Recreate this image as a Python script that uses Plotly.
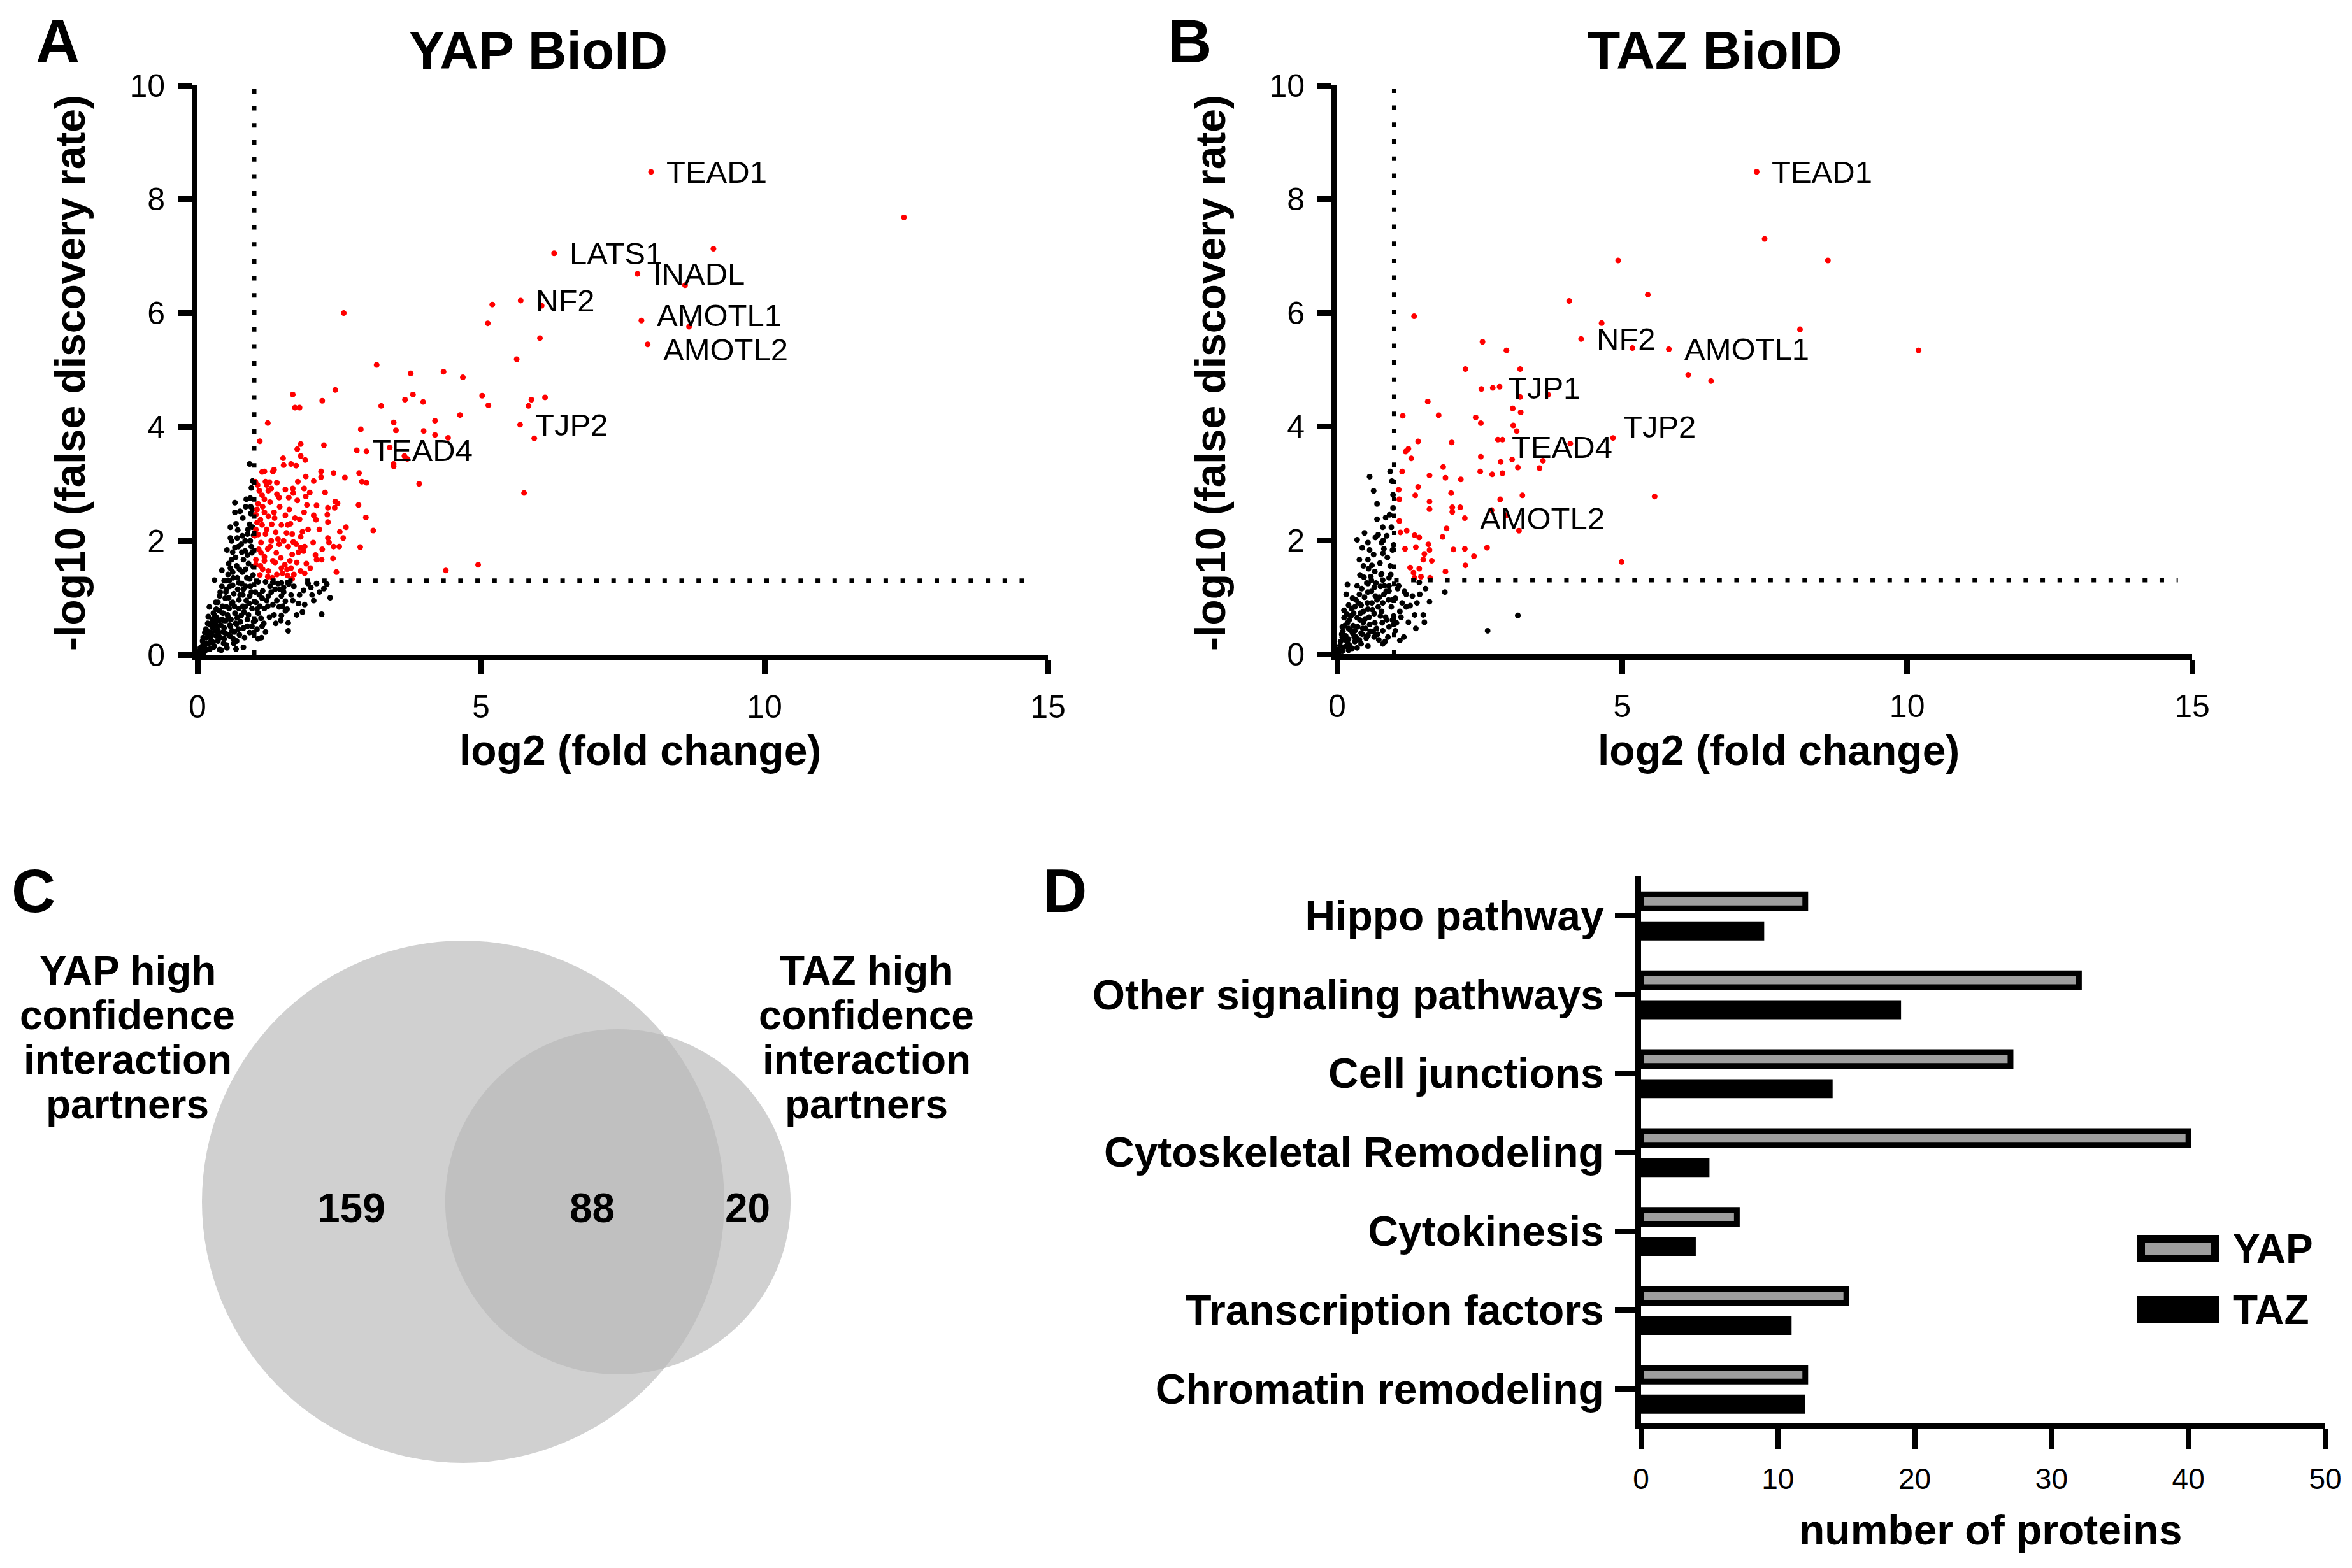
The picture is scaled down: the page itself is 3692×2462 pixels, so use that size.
import numpy as np
import plotly.graph_objects as go

W, H = 3692, 2462
FONT = "Liberation Sans, Arial, Helvetica, sans-serif"

# ------------------------------------------------------------------ data
# Panel A: YAP BioID  (log2 fold change, -log10 FDR)
yap_sig = [
    (3.16, 5.09), (3.76, 4.94), (4.34, 4.97), (1.68, 4.57), (2.43, 4.65), (2.20, 4.46), (1.72, 4.34), (1.80, 4.34),
    (3.66, 4.48), (3.80, 4.57), (3.98, 4.44), (3.24, 4.37), (1.24, 4.07), (3.46, 4.08), (3.50, 3.94), (2.88, 3.96),
    (4.19, 4.11), (3.99, 3.93), (4.19, 3.86), (4.42, 3.81), (1.10, 3.75), (2.23, 3.68), (1.82, 3.70), (1.76, 3.61),
    (2.81, 3.59), (2.98, 3.57), (3.39, 3.64), (3.65, 3.49), (3.70, 3.44), (3.46, 3.35), (3.46, 3.31), (3.91, 3.00),
    (1.51, 3.45), (1.82, 3.49), (1.90, 3.42), (1.65, 3.35), (1.74, 3.32), (1.52, 3.33), (1.35, 3.25), (1.33, 3.22),
    (1.14, 3.21), (1.18, 3.22), (2.18, 3.22), (2.18, 3.12), (2.40, 3.19), (2.60, 3.11), (2.85, 3.19), (2.90, 3.04),
    (2.98, 3.02), (1.91, 3.13), (1.02, 3.04), (1.20, 3.04), (1.27, 3.03), (1.40, 3.02), (1.77, 3.04), (1.68, 2.92),
    (1.88, 2.92), (1.09, 2.88), (1.14, 2.80), (1.25, 2.88), (1.18, 2.73), (1.07, 2.65), (1.40, 2.82), (1.44, 2.76),
    (1.61, 2.76), (1.69, 2.84), (1.76, 2.71), (1.91, 2.78), (1.93, 2.63), (2.10, 2.62), (2.30, 2.58), (2.43, 2.69),
    (2.47, 2.66), (2.42, 2.58), (2.84, 2.63), (2.97, 2.41), (3.10, 2.18), (2.87, 1.89), (1.03, 2.46), (1.11, 2.37),
    (1.18, 2.50), (1.25, 2.43), (1.14, 2.28), (1.03, 2.20), (1.22, 2.20), (1.31, 2.29), (1.80, 2.38), (2.09, 2.37),
    (2.29, 2.46), (2.30, 2.33), (1.48, 2.28), (1.59, 2.28), (2.62, 2.24), (2.51, 2.16), (2.57, 2.05), (1.01, 2.09),
    (1.07, 2.11), (1.57, 2.14), (1.67, 2.12), (1.85, 2.16), (1.82, 2.07), (1.12, 1.97), (1.24, 1.86), (1.12, 1.79),
    (1.42, 2.03), (1.44, 1.94), (1.69, 1.98), (1.74, 1.94), (1.82, 1.88), (1.87, 1.82), (1.89, 1.90), (2.04, 1.97),
    (2.30, 2.05), (2.32, 1.97), (2.40, 1.90), (2.50, 1.90), (1.39, 1.79), (1.67, 1.76), (2.08, 1.75), (2.10, 1.67),
    (2.19, 1.67), (2.39, 1.69), (1.03, 1.67), (1.18, 1.65), (1.33, 1.65), (1.37, 1.62), (1.03, 1.58), (1.11, 1.56),
    (1.54, 1.58), (1.63, 1.65), (1.65, 1.52), (1.99, 1.52), (1.82, 1.47), (1.89, 1.43), (1.25, 1.47), (1.24, 1.37),
    (1.40, 1.41), (1.50, 1.43), (1.59, 1.39), (1.67, 1.33), (1.70, 1.41), (2.45, 1.45), (4.38, 1.48),
    (1.05, 2.55), (1.15, 2.60), (1.28, 2.68), (1.35, 2.50), (1.45, 2.60), (1.55, 2.45), (1.62, 2.55), (1.72, 2.40),
    (1.05, 2.32), (1.20, 2.12), (1.30, 2.00), (1.38, 2.15), (1.52, 2.00), (1.60, 1.90), (1.78, 1.80), (1.95, 2.20),
    (2.05, 2.45), (2.15, 2.20), (1.08, 1.85), (1.18, 1.72), (1.28, 1.90), (1.47, 1.70), (1.58, 1.50), (1.75, 1.62),
    (1.92, 1.60), (2.20, 1.85), (1.10, 1.40), (1.32, 1.35), (1.48, 1.52), (1.06, 2.98), (1.30, 2.92), (1.55, 2.90),
    (1.98, 2.85), (2.05, 3.05), (2.25, 2.85), (1.15, 1.50), (1.22, 2.98), (1.36, 2.40), (1.64, 2.30), (1.88, 2.50),
    (4.68, 4.87), (5.02, 4.55), (5.13, 4.38), (5.89, 4.48), (6.13, 4.52), (5.84, 4.37), (4.63, 4.21), (5.69, 4.04),
    (5.94, 3.80), (5.76, 2.84), (4.95, 1.58), (5.63, 5.19),
    (8.00, 8.48), (12.46, 7.68), (9.10, 7.13), (6.29, 7.05), (7.76, 6.69), (8.60, 6.49), (5.70, 6.22), (5.20, 6.15),
    (6.07, 6.13), (2.58, 6.00), (5.12, 5.82), (7.83, 5.87), (8.67, 5.76), (7.94, 5.45), (6.04, 5.56),
]
yap_ns = [
    (0.92, 3.35), (0.95, 2.93), (0.86, 2.73), (0.66, 2.67), (0.75, 2.52), (0.66, 2.50), (0.94, 2.48), (0.92, 2.29),
    (0.97, 2.24), (0.58, 2.24), (0.71, 2.19), (0.88, 2.12), (0.79, 2.09), (0.58, 2.05), (0.52, 1.84), (0.66, 1.88),
    (0.77, 1.94), (0.84, 1.82), (0.96, 1.79), (0.60, 1.67), (0.69, 1.56), (0.43, 1.48), (0.54, 1.41), (0.79, 1.45),
    (0.92, 1.33), (0.30, 1.31), (1.07, 1.28), (1.20, 1.28), (1.33, 1.27), (1.48, 1.26), (1.59, 1.27), (2.28, 1.24),
    (2.00, 1.18), (1.87, 1.13), (2.23, 1.16), (2.02, 1.05), (2.34, 1.00), (1.37, 1.15), (1.52, 1.18), (1.61, 1.24),
    (1.25, 1.03), (1.48, 1.03), (1.55, 0.94), (1.14, 0.99), (1.03, 0.92), (0.92, 1.03), (0.81, 1.15), (0.73, 1.26),
    (0.62, 1.22), (0.51, 1.15), (0.39, 1.03), (0.32, 0.92), (0.21, 0.84), (0.28, 0.73), (0.39, 0.77), (0.51, 0.84),
    (0.62, 0.92), (0.73, 0.96), (0.84, 0.84), (0.96, 0.81), (1.07, 0.73), (1.18, 0.81), (1.33, 0.88), (1.44, 0.84),
    (1.55, 0.77), (1.48, 0.69), (1.27, 0.66), (1.12, 0.64), (1.14, 0.50), (0.99, 0.58), (0.88, 0.62), (0.77, 0.69),
    (0.66, 0.73), (0.54, 0.66), (0.43, 0.62), (0.32, 0.58), (0.21, 0.54), (0.13, 0.39), (0.24, 0.39), (0.36, 0.43),
    (0.47, 0.47), (0.58, 0.50), (0.69, 0.54), (0.81, 0.47), (0.92, 0.39), (0.99, 0.39), (1.07, 0.28), (0.81, 0.13),
    (0.69, 0.24), (0.58, 0.32), (0.47, 0.28), (0.36, 0.24), (0.24, 0.24), (0.13, 0.17), (0.06, 0.09), (0.17, 0.09),
    (0.28, 0.13), (0.39, 0.09), (0.51, 0.17), (0.64, 0.20), (1.78, 0.90), (1.89, 0.88), (2.19, 0.71), (1.60, 0.56),
    (1.60, 0.42), (0.09, 0.24), (0.19, 0.67), (0.36, 0.92), (0.47, 1.30), (0.58, 1.52), (0.67, 1.71), (0.81, 1.67),
    (0.49, 0.99), (0.64, 1.07), (0.56, 0.81), (0.73, 0.81), (0.45, 0.73), (0.06, 0.02), (0.11, 0.03), (0.02, 0.03),
    (0.05, 0.12), (0.10, 0.30), (0.15, 0.45), (0.20, 0.20), (0.25, 0.35), (0.30, 0.15), (0.35, 0.50), (0.40, 0.30),
    (0.45, 0.40), (0.50, 0.60), (0.55, 0.35), (0.60, 0.90), (0.65, 0.40), (0.70, 0.65), (0.75, 1.05), (0.80, 0.85),
    (0.85, 1.20), (0.90, 0.70), (0.95, 1.10), (0.30, 0.70), (0.40, 1.10), (0.50, 1.30), (0.55, 1.60), (0.62, 1.45),
    (0.70, 1.35), (0.78, 1.25), (0.85, 1.50), (0.88, 1.75), (0.93, 2.00), (0.98, 1.55), (0.72, 1.90), (0.60, 2.00),
    (0.68, 2.30), (0.80, 2.40), (0.85, 2.60), (0.12, 0.05), (0.18, 0.55), (0.22, 0.10), (0.26, 0.48), (0.33, 0.33),
    (0.42, 0.08), (0.47, 0.60), (0.52, 0.12), (0.57, 0.52), (0.63, 0.28), (0.68, 0.10), (0.74, 0.35), (0.83, 0.30),
    (0.88, 0.50), (1.02, 0.60), (1.10, 0.85), (1.15, 1.12), (1.22, 0.95), (1.30, 1.10), (1.35, 0.70), (1.40, 0.95),
    (1.45, 1.15), (1.50, 0.85), (1.65, 1.05), (1.70, 1.20), (1.75, 0.70), (1.95, 1.25), (2.10, 1.25), (1.05, 0.45),
    (1.20, 0.40), (0.97, 2.55), (0.93, 2.75), (0.97, 3.05),
    (0.03, 0.06), (0.08, 0.14), (0.14, 0.08), (0.16, 0.30), (0.19, 0.40), (0.23, 0.30), (0.27, 0.22), (0.29, 0.55),
    (0.31, 0.42), (0.34, 0.65), (0.37, 0.35), (0.41, 0.52), (0.44, 0.85), (0.46, 0.20), (0.49, 0.38), (0.53, 0.70),
    (0.55, 1.00), (0.57, 1.20), (0.59, 0.62), (0.61, 0.42), (0.63, 1.35), (0.65, 0.85), (0.67, 0.55), (0.71, 1.15),
    (0.72, 0.45), (0.74, 1.50), (0.76, 0.58), (0.78, 1.80), (0.80, 1.05), (0.82, 0.75), (0.84, 2.00), (0.86, 0.95),
    (0.87, 1.35), (0.89, 2.20), (0.90, 1.60), (0.91, 0.90), (0.93, 1.20), (0.94, 2.60), (0.95, 1.90), (0.96, 0.50),
    (0.98, 1.40), (0.99, 2.10), (0.70, 2.05), (0.62, 1.80), (0.56, 1.30), (0.50, 1.10), (0.43, 1.20), (0.38, 0.60),
    (0.33, 0.80), (0.26, 0.62), (0.20, 0.35), (0.15, 0.20), (0.10, 0.18), (1.02, 1.10), (1.05, 0.80), (1.09, 1.05),
    (1.13, 0.30), (1.17, 0.55), (1.24, 0.85), (1.28, 1.20), (1.38, 0.55), (1.42, 1.25), (1.47, 0.60), (1.52, 1.10),
    (1.58, 0.80), (1.68, 0.95), (1.80, 1.05), (1.85, 0.75), (2.05, 0.95), (2.15, 1.10),
]

# Panel B: TAZ BioID
taz_sig = [
    (2.25, 5.01), (3.21, 5.01), (2.53, 4.66), (2.73, 4.68), (2.85, 4.70), (3.21, 4.52), (3.70, 4.56), (1.59, 4.44),
    (1.15, 4.19), (1.78, 4.20), (2.43, 4.16), (2.52, 4.06), (3.08, 4.32), (3.22, 4.25), (3.09, 4.02), (3.15, 3.92),
    (1.42, 3.74), (2.01, 3.72), (2.82, 3.77), (2.90, 3.77), (4.09, 3.70), (1.25, 3.61), (1.20, 3.56), (1.30, 3.44),
    (2.52, 3.47), (2.87, 3.38), (3.07, 3.42), (3.17, 3.28), (3.61, 3.40), (3.55, 3.27), (1.86, 3.29), (1.14, 3.21),
    (1.62, 3.14), (1.90, 3.10), (2.17, 3.07), (2.51, 3.21), (2.72, 3.16), (2.90, 3.18), (1.08, 2.89), (1.09, 2.72),
    (1.42, 2.94), (1.37, 2.79), (2.00, 2.83), (1.62, 2.68), (1.62, 2.55), (2.02, 2.58), (2.02, 2.50), (2.16, 2.58),
    (2.24, 2.39), (2.86, 2.72), (3.25, 2.79), (2.71, 2.53), (2.97, 2.44), (3.19, 2.17), (1.09, 2.34), (1.11, 2.14),
    (1.22, 2.17), (1.36, 2.09), (1.44, 2.05), (1.92, 2.21), (1.85, 2.06), (1.19, 1.85), (1.38, 1.88), (1.60, 1.93),
    (1.62, 1.83), (2.04, 1.84), (2.24, 1.85), (2.63, 1.87), (1.53, 1.76), (1.51, 1.66), (1.66, 1.64), (2.40, 1.72),
    (2.25, 1.56), (1.28, 1.52), (1.44, 1.50), (1.34, 1.43), (1.90, 1.45), (1.36, 1.34), (1.47, 1.36), (1.63, 1.34),
    (6.16, 4.91), (6.56, 4.80), (4.84, 3.80), (5.57, 2.77), (4.99, 1.62),
    (7.36, 8.48), (7.50, 7.30), (8.61, 6.92), (4.93, 6.92), (5.45, 6.32), (4.07, 6.21), (1.35, 5.94), (4.64, 5.82),
    (4.28, 5.54), (5.18, 5.38), (5.82, 5.36), (8.12, 5.71), (10.20, 5.34), (2.55, 5.49), (2.97, 5.34),
]
taz_ns = [
    (0.57, 3.12), (0.64, 2.87), (0.70, 2.64), (0.70, 2.37), (0.85, 2.40), (0.80, 2.23), (0.98, 2.57), (0.95, 2.23),
    (0.93, 3.21), (0.96, 3.04), (0.48, 2.13), (0.35, 2.01), (0.67, 2.05), (0.54, 1.96), (0.44, 1.87), (0.57, 1.83),
    (0.78, 1.96), (0.87, 2.08), (0.99, 1.92), (0.97, 1.83), (0.80, 1.77), (0.39, 1.66), (0.54, 1.66), (0.46, 1.55),
    (0.61, 1.56), (0.40, 1.39), (0.59, 1.36), (0.78, 1.41), (0.91, 1.34), (0.80, 1.30), (0.18, 1.22), (0.35, 1.20),
    (0.54, 1.24), (0.65, 1.17), (0.76, 1.19), (0.91, 1.20), (1.06, 1.15), (1.21, 1.05), (1.32, 1.02), (1.44, 1.26),
    (1.55, 1.15), (1.62, 0.92), (1.89, 1.09), (3.17, 0.68), (2.64, 0.41), (0.16, 1.05), (0.27, 0.98), (0.39, 1.05),
    (0.54, 1.09), (0.67, 1.02), (0.82, 1.05), (0.91, 1.11), (1.02, 0.98), (1.14, 0.90), (1.21, 0.83), (1.36, 0.69),
    (1.51, 0.69), (1.53, 0.56), (1.25, 0.56), (1.17, 0.30), (1.02, 0.41), (0.99, 0.52), (0.87, 0.60), (0.76, 0.67),
    (0.65, 0.71), (0.54, 0.79), (0.42, 0.86), (0.31, 0.83), (0.20, 0.86), (0.12, 0.77), (0.12, 0.64), (0.24, 0.67),
    (0.35, 0.64), (0.46, 0.56), (0.57, 0.52), (0.69, 0.45), (0.80, 0.41), (0.91, 0.48), (0.84, 0.22), (0.80, 0.18),
    (0.65, 0.30), (0.54, 0.33), (0.42, 0.37), (0.31, 0.41), (0.20, 0.45), (0.09, 0.48), (0.09, 0.30), (0.20, 0.26),
    (0.31, 0.22), (0.42, 0.18), (0.54, 0.14), (0.35, 0.11), (0.20, 0.07), (0.09, 0.05), (0.03, 0.03), (0.16, 0.14),
    (0.27, 0.37), (0.46, 0.75), (0.72, 0.83), (0.61, 0.90), (0.80, 0.90), (0.95, 0.83), (1.10, 0.75), (0.99, 0.67),
    (1.38, 0.45), (1.10, 0.24),
    (0.05, 0.15), (0.10, 0.40), (0.14, 0.25), (0.18, 0.55), (0.22, 0.15), (0.25, 0.80), (0.28, 0.50), (0.33, 0.30),
    (0.37, 0.90), (0.40, 0.60), (0.44, 0.35), (0.48, 1.00), (0.50, 0.45), (0.52, 1.25), (0.56, 0.65), (0.60, 1.10),
    (0.63, 0.40), (0.66, 1.45), (0.70, 0.95), (0.73, 0.25), (0.75, 1.60), (0.78, 0.75), (0.82, 1.85), (0.86, 1.10),
    (0.89, 0.30), (0.93, 1.55), (0.96, 0.95), (1.04, 0.55), (1.08, 1.20), (1.12, 0.65), (1.18, 1.10), (1.28, 0.85),
    (1.40, 0.90), (1.45, 1.05),
    (0.02, 0.08), (0.06, 0.22), (0.08, 0.35), (0.11, 0.12), (0.13, 0.50), (0.15, 0.32), (0.17, 0.70), (0.19, 0.18),
    (0.21, 0.60), (0.23, 0.42), (0.26, 0.10), (0.29, 0.72), (0.30, 0.30), (0.33, 0.95), (0.36, 0.48), (0.39, 0.25),
    (0.41, 0.72), (0.43, 1.15), (0.45, 0.45), (0.47, 1.35), (0.49, 0.62), (0.51, 0.28), (0.53, 0.90), (0.55, 1.50),
    (0.58, 0.40), (0.60, 1.30), (0.62, 0.78), (0.64, 1.75), (0.66, 0.55), (0.68, 1.25), (0.71, 0.35), (0.72, 2.10),
    (0.74, 1.00), (0.77, 1.40), (0.79, 0.55), (0.81, 2.00), (0.83, 1.20), (0.85, 0.65), (0.88, 1.70), (0.90, 0.95),
    (0.92, 2.45), (0.94, 1.40), (0.97, 0.60), (0.98, 2.80),
]

# labelled proteins (name, log2 FC, -log10 FDR)
yap_label_names = ["TEAD1", "LATS1", "INADL", "NF2", "AMOTL1", "AMOTL2", "TJP2", "TEAD4"]
yap_label_x = [8.00, 6.29, 7.76, 5.70, 7.83, 7.94, 5.69, 2.81]
yap_label_y = [8.48, 7.05, 6.69, 6.22, 5.87, 5.45, 4.04, 3.59]
taz_label_names = ["TEAD1", "NF2", "AMOTL1", "TJP1", "TJP2", "TEAD4", "AMOTL2"]
taz_label_x = [7.36, 4.28, 5.82, 2.73, 4.84, 2.82, 2.24]
taz_label_y = [8.48, 5.54, 5.36, 4.68, 3.80, 3.77, 2.39]

fc_cutoff = 1.0      # log2 fold change threshold
fdr_cutoff = 1.3     # -log10(0.05)
fc_line_end = 14.75

# Panel C: Venn counts
venn_yap_only = 159
venn_both = 88
venn_taz_only = 20

# Panel D: categories
categories = ["Hippo pathway", "Other signaling pathways", "Cell junctions", "Cytoskeletal Remodeling",
              "Cytokinesis", "Transcription factors", "Chromatin remodeling"]
yap_counts = [12, 32, 27, 40, 7, 15, 12]
taz_counts = [9, 19, 14, 5, 4, 11, 12]


# ------------------------------------------------------------------ helpers
def px(x):
    return x / W


def py(y):
    return 1 - y / H


fig = go.Figure()


def split(pts):
    return [p[0] for p in pts], [p[1] for p in pts]


for ns, sig, xa, ya in [(yap_ns, yap_sig, "x", "y"), (taz_ns, taz_sig, "x2", "y2")]:
    nx, ny = split(ns)
    sx, sy = split(sig)
    fig.add_trace(go.Scatter(x=nx, y=ny, mode="markers", xaxis=xa, yaxis=ya, cliponaxis=False,
                             marker=dict(color="black", size=9, line=dict(width=0)), showlegend=False,
                             hoverinfo="skip"))
    fig.add_trace(go.Scatter(x=sx, y=sy, mode="markers", xaxis=xa, yaxis=ya, cliponaxis=False,
                             marker=dict(color="#ff0000", size=9, line=dict(width=0)), showlegend=False,
                             hoverinfo="skip"))

# bars
fig.add_trace(go.Bar(y=categories, x=yap_counts, orientation="h", xaxis="x3", yaxis="y3",
                     width=0.176, offset=-0.269, showlegend=False,
                     marker=dict(color="#9e9e9e", line=dict(color="black", width=9))))
fig.add_trace(go.Bar(y=categories, x=taz_counts, orientation="h", xaxis="x3", yaxis="y3",
                     width=0.242, offset=0.073, showlegend=False,
                     marker=dict(color="black", line=dict(width=0))))

tickfont = dict(family=FONT, size=50, color="black")
common_ax = dict(showline=True, linewidth=9, linecolor="black", ticks="outside", ticklen=22,
                 tickwidth=9, tickcolor="black", showgrid=False, zeroline=False, tickfont=tickfont,
                 automargin=False)

layout = dict(
    width=W, height=H, autosize=False,
    margin=dict(l=0, r=0, t=0, b=0, pad=0),
    paper_bgcolor="white", plot_bgcolor="white",
    barmode="overlay",
    font=dict(family=FONT, color="black"),
    xaxis=dict(domain=[px(310), px(1645)], range=[0, 15], tickvals=[0, 5, 10, 15], anchor="y",
               ticklabelstandoff=8, **common_ax),
    yaxis=dict(domain=[py(1028), py(134)], range=[0, 10], tickvals=[0, 2, 4, 6, 8, 10], anchor="x",
               ticklabelstandoff=10, **common_ax),
    xaxis2=dict(domain=[px(2099), px(3441)], range=[0, 15], tickvals=[0, 5, 10, 15], anchor="y2",
                ticklabelstandoff=8, **common_ax),
    yaxis2=dict(domain=[py(1027), py(134)], range=[0, 10], tickvals=[0, 2, 4, 6, 8, 10], anchor="x2",
                ticklabelstandoff=10, **common_ax),
    xaxis3=dict(domain=[px(2576), px(3650)], range=[0, 50], tickvals=[0, 10, 20, 30, 40, 50], anchor="y3",
                showline=True, linewidth=9, linecolor="black", ticks="outside", ticklen=32, tickwidth=9,
                tickcolor="black", showgrid=False, zeroline=False, ticklabelstandoff=8, automargin=False,
                tickfont=dict(family=FONT, size=46, color="black")),
    yaxis3=dict(domain=[py(2234), py(1375)], type="category", categoryorder="array", categoryarray=categories,
                range=[6.43, -0.506], anchor="x3", automargin=False,
                showline=True, linewidth=9, linecolor="black", ticks="outside", ticklen=32, tickwidth=9,
                tickcolor="black", showgrid=False, zeroline=False, ticklabelstandoff=4,
                tickfont=dict(family=FONT, size=66, color="black", weight="bold")),
)
fig.update_layout(**layout)

shapes = []
# threshold dotted lines
for xr, yr in [("x", "y"), ("x2", "y2")]:
    dot = dict(color="black", width=7, dash="7px,19.7px")
    shapes.append(dict(type="line", xref=xr, yref=yr, x0=fc_cutoff, x1=fc_cutoff, y0=0, y1=10, line=dot))
    shapes.append(dict(type="line", xref=xr, yref=yr, x0=fc_cutoff, x1=fc_line_end, y0=fdr_cutoff,
                       y1=fdr_cutoff, line=dot))

# Venn (area proportional)
yap_total = venn_yap_only + venn_both
taz_total = venn_taz_only + venn_both
r1 = 410.0
r2 = r1 * np.sqrt(taz_total / yap_total)


def lens_area(a, b, d):
    if d >= a + b:
        return 0.0
    if d <= abs(a - b):
        return np.pi * min(a, b) ** 2
    t1 = a * a * np.arccos((d * d + a * a - b * b) / (2 * d * a))
    t2 = b * b * np.arccos((d * d + b * b - a * a) / (2 * d * b))
    t3 = 0.5 * np.sqrt((-d + a + b) * (d + a - b) * (d - a + b) * (d + a + b))
    return t1 + t2 - t3


target = np.pi * r1 ** 2 * venn_both / yap_total
lo, hi = abs(r1 - r2), r1 + r2
for _ in range(60):
    mid = 0.5 * (lo + hi)
    if lens_area(r1, r2, mid) > target:
        lo = mid
    else:
        hi = mid
dist = 0.5 * (lo + hi)
cx1, cy = 727.0, 1887.0
cx2 = cx1 + dist
for cx, r in [(cx1, r1), (cx2, r2)]:
    shapes.append(dict(type="circle", xref="paper", yref="paper", x0=px(cx - r), x1=px(cx + r),
                       y0=py(cy + r), y1=py(cy - r), fillcolor="rgb(184,184,184)", opacity=0.66,
                       line=dict(width=0), layer="below"))

# legend swatches for panel D
shapes.append(dict(type="rect", xref="paper", yref="paper", x0=px(3361), x1=px(3477), y0=py(1976), y1=py(1945),
                   fillcolor="#9e9e9e", line=dict(color="black", width=12)))
shapes.append(dict(type="rect", xref="paper", yref="paper", x0=px(3355), x1=px(3483), y0=py(2078), y1=py(2035),
                   fillcolor="black", line=dict(width=0)))
fig.update_layout(shapes=shapes)

ann = []


def text(x, y, s, size, bold=True, xanchor="center", angle=0):
    ann.append(dict(x=px(x), y=py(y), xref="paper", yref="paper", text=f"<b>{s}</b>" if bold else s,
                    showarrow=False, xanchor=xanchor, yanchor="middle", textangle=angle,
                    font=dict(family=FONT, size=size, color="black")))


# panel letters
text(90, 64, "A", 96)
text(1867, 64, "B", 96)
text(52, 1398, "C", 96)
text(1671, 1398, "D", 96)
# titles
text(845, 79, "YAP BioID", 84)
text(2692, 79, "TAZ BioID", 84)
# axis titles
text(1005, 1178, "log2 (fold change)", 66)
text(2792, 1178, "log2 (fold change)", 66)
text(110, 586, "-log10 (false discovery rate)", 66, angle=-90)
text(1900, 586, "-log10 (false discovery rate)", 66, angle=-90)
text(3124, 2402, "number of proteins", 66)
# venn
for i, line in enumerate(["YAP high", "confidence", "interaction", "partners"]):
    text(200, 1524 + 70 * i, line, 64)
for i, line in enumerate(["TAZ high", "confidence", "interaction", "partners"]):
    text(1360, 1524 + 70 * i, line, 64)
text(551, 1897, str(venn_yap_only), 64)
text(929, 1897, str(venn_both), 64)
text(1173, 1897, str(venn_taz_only), 64)
# legend text
text(3503, 1961, "YAP", 64, xanchor="left")
text(3503, 2057, "TAZ", 64, xanchor="left")

# gene labels
label_shift = {("A", "AMOTL1"): (22, 8), ("A", "AMOTL2"): (22, -8), ("B", "TJP2"): (14, 18),
               ("B", "TEAD4"): (20, -12)}
for panel, names, lx, ly, xr, yr in [("A", yap_label_names, yap_label_x, yap_label_y, "x", "y"),
                                     ("B", taz_label_names, taz_label_x, taz_label_y, "x2", "y2")]:
    for n, xv, yv in zip(names, lx, ly):
        dx, dy = label_shift.get((panel, n), (22, 0))
        ann.append(dict(x=xv, y=yv, xref=xr, yref=yr, text=n, showarrow=False, xanchor="left",
                        yanchor="middle", xshift=dx, yshift=dy,
                        font=dict(family=FONT, size=49, color="black")))

fig.update_layout(annotations=ann)

fig.write_html("out.html", config={"displayModeBar": False},
               post_script="document.body.style.margin='0';document.body.style.overflow='hidden';")
